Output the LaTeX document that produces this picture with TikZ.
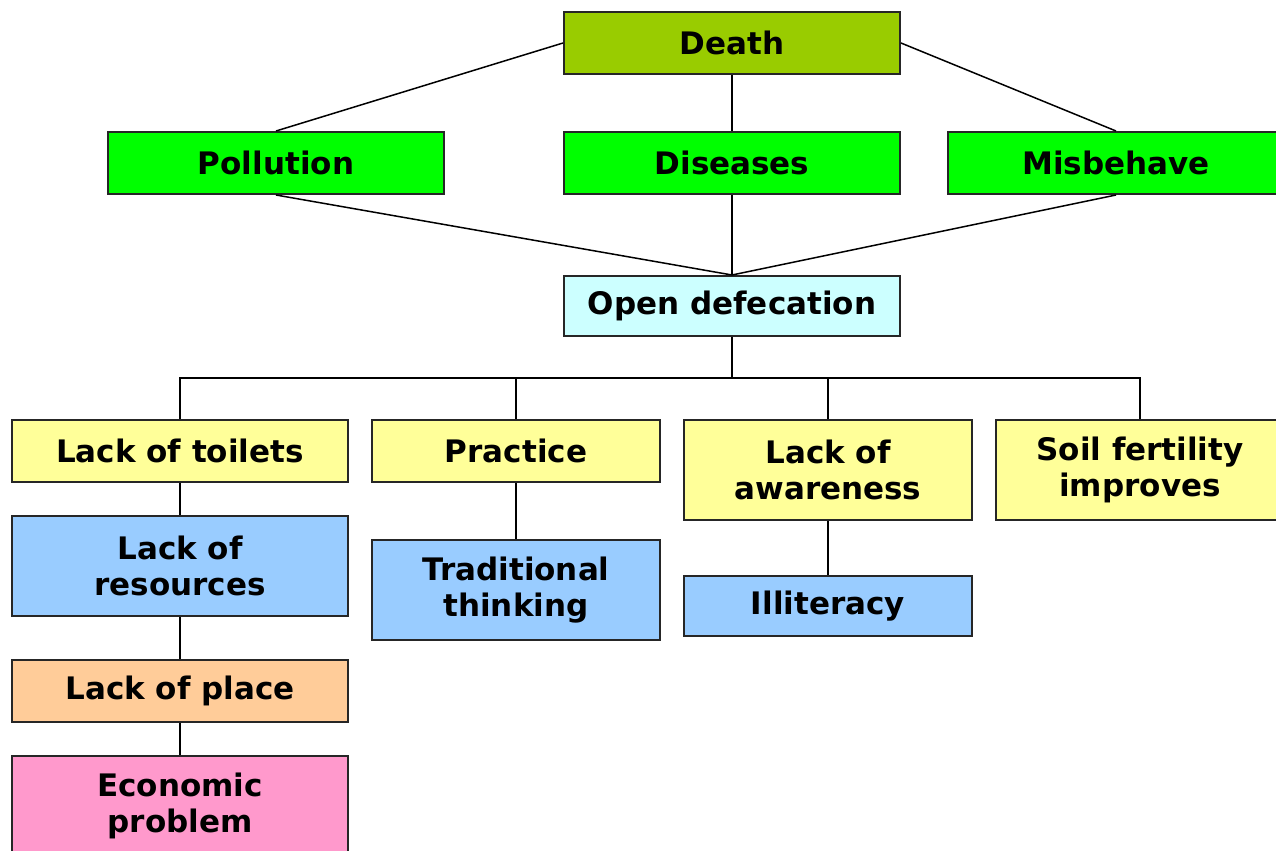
\documentclass[tikz,border=0pt]{standalone}
\usepackage{fontspec}
\setmainfont{DejaVu Sans}
\begin{document}
\begin{tikzpicture}[x=0.5pt,y=-0.5pt,
  box/.style={draw=black!85,line width=1pt,minimum width=#1*0.5pt,inner sep=0pt,align=center,
    font=\fontsize{15.5}{18}\selectfont\bfseries},
  box/.default=336,
  h62/.style={minimum height=31pt},
  h60/.style={minimum height=30pt},
  h100/.style={minimum height=50pt},
  link/.style={line width=0.75pt,draw=black}]
\useasboundingbox (0,0) rectangle (1276,851);
\definecolor{olivegreen}{HTML}{99CC00}
\definecolor{brightgreen}{HTML}{00FF00}
\definecolor{paleCyan}{HTML}{CCFFFF}
\definecolor{paleYellow}{HTML}{FFFF99}
\definecolor{skyBlue}{HTML}{99CCFF}
\definecolor{peach}{HTML}{FFCC99}
\definecolor{rose}{HTML}{FF99CC}

% top levels
\node[box,h62,fill=olivegreen] (death) at (732,43) {Death};
\node[box,h62,fill=brightgreen] (pollution) at (276,163) {Pollution};
\node[box,h62,fill=brightgreen] (diseases) at (732,163) {Diseases};
\node[box,h62,fill=brightgreen] (misbehave) at (1116,163) {Misbehave};
\node[box,h60,fill=paleCyan] (open) at (732,306) {Open defecation};

% causes
\node[box,h62,fill=paleYellow] (toilets) at (180,451) {Lack of toilets};
\node[box=288,h62,fill=paleYellow] (practice) at (516,451) {Practice};
\node[box=288,h100,fill=paleYellow] (awareness) at (828,470) {Lack of\\awareness};
\node[box=288,h100,fill=paleYellow] (soil) at (1140,470) {Soil fertility\\improves};

% deeper causes
\node[box,h100,fill=skyBlue] (resources) at (180,566) {Lack of\\resources};
\node[box=288,h100,fill=skyBlue] (traditional) at (516,590) {Traditional\\thinking};
\node[box=288,h60,fill=skyBlue] (illiteracy) at (828,606) {Illiteracy};
\node[box,h62,fill=peach] (place) at (180,691) {Lack of place};
\node[box,h100,fill=rose] (economic) at (180,806) {Economic\\problem};

% upper connectors
\draw[link] (death.west) -- (pollution.north);
\draw[link] (death.south) -- (diseases.north);
\draw[link] (death.east) -- (misbehave.north);
\draw[link] (pollution.south) -- (open.north);
\draw[link] (diseases.south) -- (open.north);
\draw[link] (misbehave.south) -- (open.north);

% bus below open defecation
\coordinate (bus) at (732,378);
\draw[line width=1.3pt] (open.south) -- (bus);
\draw[link] (toilets.north) |- (bus);
\draw[link] (practice.north) |- (bus);
\draw[link] (awareness.north) |- (bus);
\draw[link] (soil.north) |- (bus);

% chains
\draw[link] (toilets.south) -- (resources.north);
\draw[link] (resources.south) -- (place.north);
\draw[link] (place.south) -- (economic.north);
\draw[link] (practice.south) -- (traditional.north);
\draw[link] (awareness.south) -- (illiteracy.north);
\end{tikzpicture}
\end{document}
